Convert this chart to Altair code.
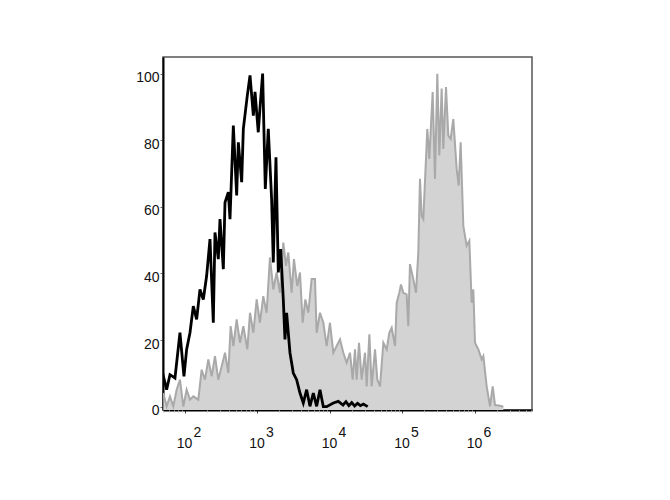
import altair as alt
import pandas as pd

# Gray (stained) histogram: log10 of fluorescence and % of max
gray_log = [1.701, 1.747, 1.793, 1.839, 1.885, 1.931, 1.977, 2.023, 2.069, 2.115,
            2.184, 2.230, 2.276, 2.322, 2.368, 2.414, 2.460, 2.506, 2.552, 2.598,
            2.630, 2.667, 2.713, 2.759, 2.805, 2.860, 2.897, 2.943, 2.989, 3.034,
            3.080, 3.126, 3.172, 3.218, 3.264, 3.310, 3.356, 3.393, 3.425, 3.471,
            3.503, 3.549, 3.586, 3.623, 3.660, 3.701, 3.747, 3.793, 3.816, 3.862,
            3.908, 3.954, 4.000, 4.046, 4.092, 4.138, 4.184, 4.230, 4.276, 4.313,
            4.345, 4.368, 4.400, 4.437, 4.483, 4.506, 4.543, 4.575, 4.621, 4.653,
            4.690, 4.736, 4.782, 4.818, 4.851, 4.897, 4.920, 4.956, 4.979, 5.011,
            5.057, 5.080, 5.103, 5.149, 5.186, 5.218, 5.241, 5.264, 5.287, 5.342,
            5.370, 5.416, 5.448, 5.480, 5.508, 5.540, 5.563, 5.600, 5.632, 5.664,
            5.701, 5.747, 5.775, 5.802, 5.839, 5.885, 5.922, 5.954, 5.977, 6.000,
            6.046, 6.092, 6.115, 6.161, 6.207, 6.244, 6.276, 6.345, 6.391]
gray_pct = [4.1, 0.1, 3.1, 0.1, 5.1, 8.1, 0.0, 5.1, 2.1, 3.1,
            2.1, 11.1, 8.1, 14.2, 9.1, 15.2, 8.1, 12.1, 16.2, 10.1,
            24.2, 18.2, 26.2, 19.2, 24.2, 17.2, 28.2, 22.2, 32.2, 25.2,
            33.2, 28.2, 44.8, 35.2, 40.3, 34.2, 49.3, 42.3, 46.3, 34.2,
            44.3, 36.2, 40.3, 25.2, 32.2, 28.2, 38.3, 38.3, 22.2, 28.2,
            25.2, 18.2, 25.2, 16.2, 18.2, 20.2, 16.2, 13.2, 16.2, 8.1,
            17.2, 8.1, 19.2, 8.1, 16.2, 6.1, 21.7, 6.1, 17.2, 8.1,
            6.1, 19.2, 17.2, 22.2, 23.7, 18.2, 31.2, 34.2, 36.7, 34.2,
            33.7, 24.2, 42.8, 38.3, 34.2, 46.3, 68.4, 57.3, 56.3, 83.4,
            74.4, 94.5, 68.4, 100.0, 75.4, 95.5, 77.4, 96.0, 81.4, 80.4,
            86.4, 71.4, 66.4, 79.4, 54.3, 48.3, 49.8, 31.2, 35.2, 19.2,
            17.2, 14.2, 15.2, 6.1, 0.1, 6.1, 0.5, 0.3, 0.0]

# Black (control) histogram
black_log = [1.692, 1.747, 1.793, 1.862, 1.931, 1.986, 2.023, 2.069, 2.115, 2.161,
             2.207, 2.253, 2.299, 2.345, 2.391, 2.414, 2.460, 2.483, 2.529, 2.552,
             2.598, 2.621, 2.667, 2.713, 2.736, 2.782, 2.805, 2.860, 2.897, 2.943,
             2.966, 3.011, 3.034, 3.071, 3.108, 3.149, 3.195, 3.218, 3.255, 3.287,
             3.320, 3.356, 3.379, 3.402, 3.448, 3.494, 3.540, 3.586, 3.632, 3.678,
             3.724, 3.770, 3.816, 3.862, 3.908, 3.954, 4.046, 4.115, 4.18, 4.22,
             4.26, 4.30, 4.34, 4.38, 4.42, 4.46, 4.52]
black_pct = [10.1, 5.1, 9.6, 8.6, 22.2, 9.1, 17.2, 22.2, 30.2, 26.2,
             35.2, 32.2, 39.3, 50.3, 25.2, 52.3, 44.3, 56.3, 41.3, 61.3,
             64.4, 56.3, 84.4, 63.4, 79.4, 67.4, 83.4, 93.5, 99.5, 87.4,
             94.5, 82.4, 89.5, 100.0, 65.4, 83.4, 62.3, 43.3, 74.9, 40.3,
             47.3, 32.2, 20.2, 28.2, 16.2, 10.1, 8.1, 4.1, 1.1, 5.1,
             0.1, 4.1, 0.1, 5.1, 0.0, 0.0, 1.1, 1.6, 0.5, 1.5,
             0.3, 1.2, 0.2, 1.0, 0.3, 0.8, 0.0]

decades = [2, 3, 4, 5, 6]
y_ticks = [0, 20, 40, 60, 80, 100]

gray = pd.DataFrame({"x": [10 ** v for v in gray_log], "y": gray_pct})
black = pd.DataFrame({"x": [10 ** v for v in black_log], "y": black_pct})

x_lo, x_hi = 10 ** 1.697, 10 ** 6.786
major_vals = [10 ** d for d in decades]
minor_vals = [m * 10 ** d for d in [1, 2, 3, 4, 5, 6] for m in range(2, 10)
              if x_lo <= m * 10 ** d <= x_hi]

xscale = alt.Scale(type="log", domain=[x_lo, x_hi], nice=False)
yscale = alt.Scale(domain=[-1, 105], nice=False, zero=False)

FONT = "Liberation Sans"

yaxis = alt.Axis(values=y_ticks, title=None, grid=False, tickSize=3, tickColor="#666",
                 domainColor="#000", domainWidth=2, labelFont=FONT, labelFontSize=14,
                 labelColor="#111", labelPadding=1, labelOffset=4, labelFlush=False,
                 labelOverlap=False)

axis_major = alt.Axis(values=major_vals, orient="bottom", title=None, grid=False,
                      labelExpr="'10'", labelFont=FONT, labelFontSize=14,
                      labelColor="#111", labelBaseline="alphabetic", labelPadding=34,
                      labelOffset=-1, tickSize=3, tickColor="#444", domainColor="#000",
                      domainWidth=2, labelFlush=False, labelOverlap=False)
axis_exp = alt.Axis(values=major_vals, orient="bottom", title=None, grid=False,
                    labelExpr="'' + round(log(datum.value) / LN10)", labelFont=FONT,
                    labelFontSize=14, labelColor="#111", labelBaseline="alphabetic",
                    labelPadding=26, labelOffset=12, ticks=False, tickSize=0,
                    domain=False, labelFlush=False, labelOverlap=False)
axis_minor = alt.Axis(values=minor_vals, orient="bottom", title=None, grid=False,
                      labels=False, ticks=True, tickSize=2, tickColor="#bbb",
                      domain=False)

area = alt.Chart(gray).mark_area(color="#d3d3d3", clip=True).encode(
    x=alt.X("x:Q", scale=xscale, axis=axis_major),
    y=alt.Y("y:Q", scale=yscale, axis=yaxis),
    y2=alt.datum(-1),
)
gray_line = alt.Chart(gray).mark_line(color="#a9a9a9", strokeWidth=2, clip=True).encode(
    x=alt.X("x:Q", scale=xscale, axis=axis_exp),
    y=alt.Y("y:Q", scale=yscale, axis=yaxis),
)
black_line = alt.Chart(black).mark_line(color="#000000", strokeWidth=2.8, clip=True).encode(
    x=alt.X("x:Q", scale=xscale, axis=axis_minor),
    y=alt.Y("y:Q", scale=yscale, axis=yaxis),
)

chart = alt.layer(area, gray_line, black_line).resolve_axis(x="independent").properties(
    width=369,
    height=353,
    autosize=alt.AutoSizeParams(type="none"),
    padding={"left": 155, "top": 49, "right": 130, "bottom": 90},
    background="white",
).configure_view(stroke="#555", strokeWidth=1.5)

chart.save("out.html", embed_options={"renderer": "svg", "actions": False})
